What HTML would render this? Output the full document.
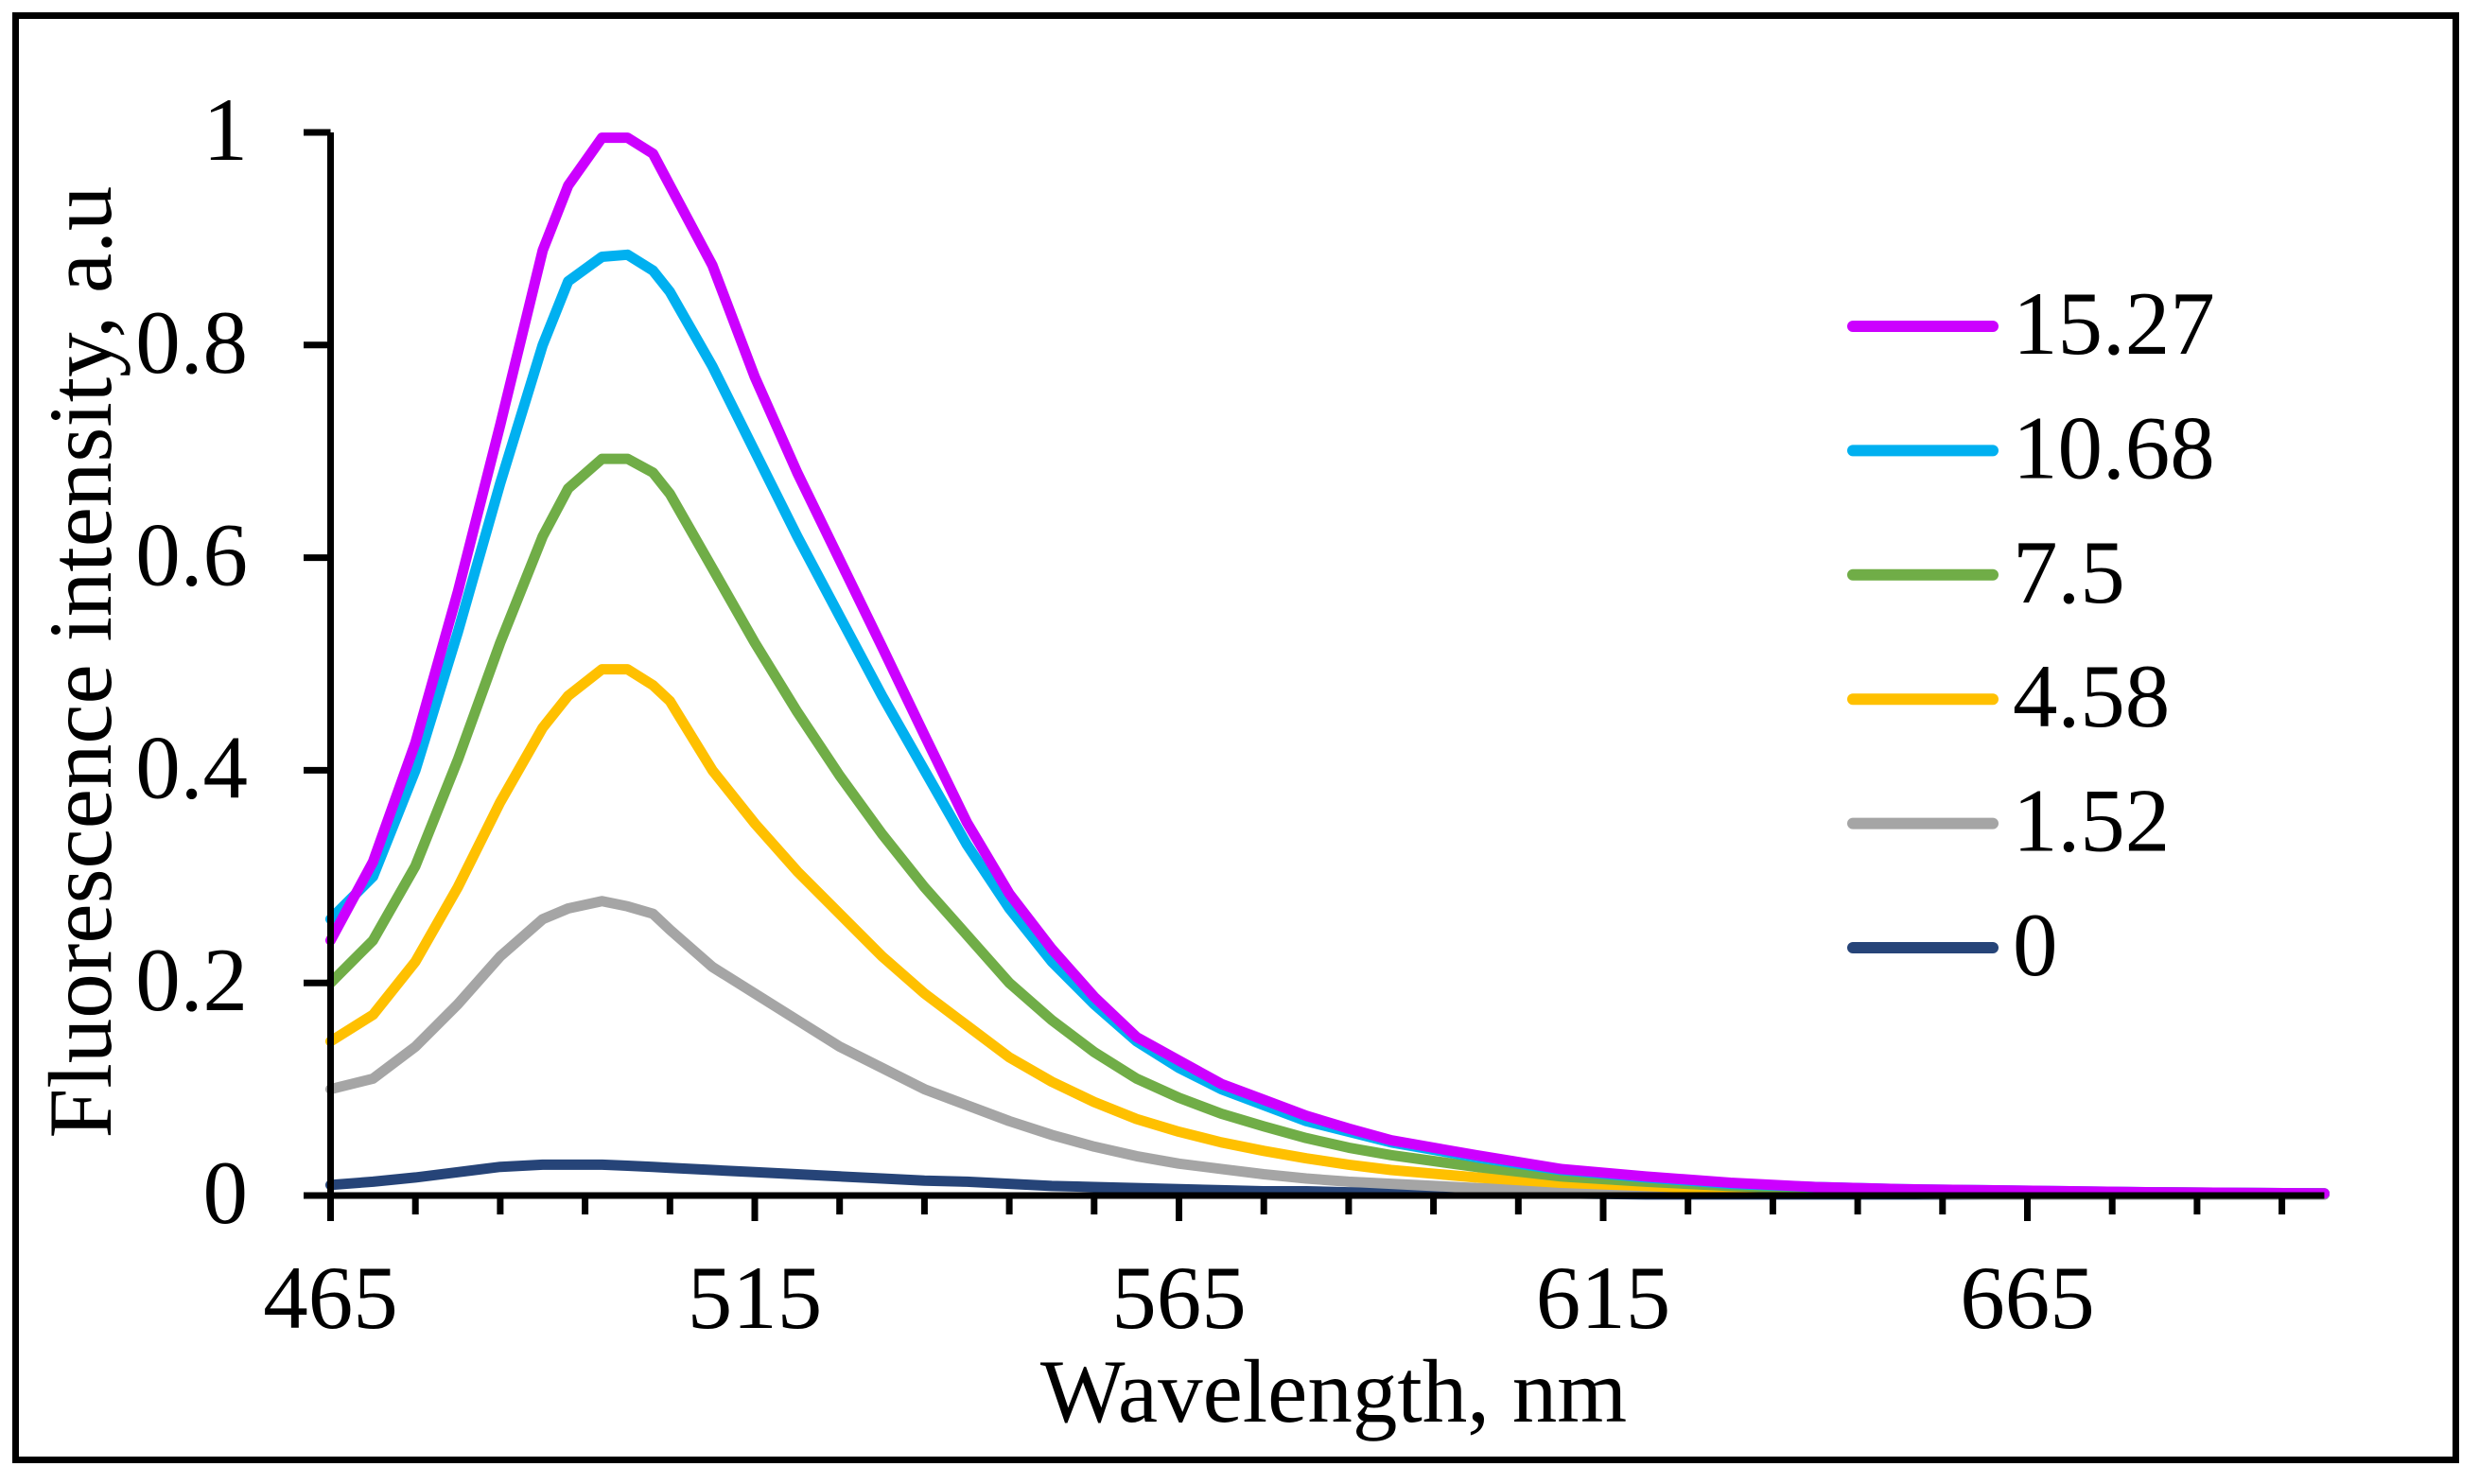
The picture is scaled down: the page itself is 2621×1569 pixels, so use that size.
<!DOCTYPE html>
<html><head><meta charset="utf-8"><style>
html,body{margin:0;padding:0;background:#fff;}
svg{display:block;font-family:"Liberation Serif","Times New Roman",serif;}
</style></head><body>
<svg id="chart" width="2621" height="1569" viewBox="0 0 2621 1569" xmlns="http://www.w3.org/2000/svg">
<rect x="16.5" y="16.5" width="2580" height="1527" fill="#fff" stroke="#000" stroke-width="7"/>
<g id="series"></g>
<g id="axes"></g>
<g id="legend"></g>
<text transform="translate(117,700) rotate(-90)" text-anchor="middle" font-size="95">Fluorescence intensity, a.u</text>
<text x="1410" y="1503" text-anchor="middle" font-size="95">Wavelength, nm</text>
</svg>
<script>
const wavelengths = [465,470,475,480,485,490,493,497,500,503,505,510,515,520,525,530,535,540,545,550,555,560,565,570,575,580,585,590,600,610,620,630,640,650,660,680,700];
const s1527 = [0.24,0.314,0.426,0.568,0.725,0.889,0.95,0.995,0.995,0.98,0.95,0.875,0.77,0.68,0.598,0.516,0.433,0.351,0.284,0.232,0.187,0.149,0.127,0.105,0.09,0.075,0.063,0.052,0.038,0.025,0.018,0.012,0.008,0.006,0.005,0.003,0.002];
const s1068 = [0.26,0.30,0.40,0.53,0.67,0.80,0.86,0.883,0.885,0.87,0.85,0.78,0.70,0.62,0.545,0.47,0.40,0.33,0.27,0.22,0.18,0.145,0.12,0.10,0.085,0.07,0.06,0.05,0.036,0.024,0.017,0.011,0.008,0.006,0.005,0.003,0.002];
const s75 = [0.20,0.24,0.31,0.41,0.52,0.62,0.665,0.693,0.693,0.68,0.66,0.59,0.52,0.455,0.395,0.34,0.29,0.245,0.20,0.165,0.135,0.11,0.092,0.077,0.065,0.054,0.045,0.038,0.027,0.018,0.013,0.009,0.006,0.005,0.004,0.003,0.002];
const s458 = [0.145,0.17,0.22,0.29,0.37,0.44,0.47,0.495,0.495,0.48,0.465,0.40,0.35,0.305,0.265,0.225,0.19,0.16,0.13,0.107,0.088,0.072,0.06,0.05,0.042,0.035,0.029,0.024,0.017,0.012,0.009,0.006,0.005,0.004,0.003,0.002,0.002];
const s152 = [0.10,0.11,0.14,0.18,0.225,0.26,0.27,0.277,0.272,0.265,0.25,0.215,0.19,0.165,0.14,0.12,0.10,0.085,0.07,0.057,0.046,0.037,0.03,0.025,0.02,0.016,0.013,0.011,0.007,0.005,0.004,0.003,0.002,0.002,0.001,0.001,0.001];
const s0 = [0.010,0.013,0.017,0.022,0.027,0.029,0.029,0.029,0.028,0.027,0.026,0.024,0.022,0.020,0.018,0.016,0.014,0.013,0.011,0.009,0.008,0.007,0.006,0.005,0.004,0.004,0.003,0.003,0.002,0.002,0.001,0.001,0.001,0.001,0.001,0.001,0.001];
const seriesLabels = ["15.27","10.68","7.5","4.58","1.52","0"];
const seriesColors = ["#cc00ff","#00b0f0","#70ad47","#ffc000","#a5a5a5","#264478"];
const yTicks = [0,0.2,0.4,0.6,0.8,1];
const yTickLabels = ["0","0.2","0.4","0.6","0.8","1"];
const xMajorTicks = [465,515,565,615,665];

const NS="http://www.w3.org/2000/svg";
const X0=349.5, PXNM=8.97, Y0=1264, PXU=1124;
function xs(w){return X0+(w-465)*PXNM;}
function ys(v){return Y0-v*PXU;}
function mk(tag,attrs,parent){const e=document.createElementNS(NS,tag);for(const k in attrs)e.setAttribute(k,attrs[k]);parent.appendChild(e);return e;}

const allSeries=[s1527,s1068,s75,s458,s152,s0];
const gS=document.getElementById('series');
for(let i=allSeries.length-1;i>=0;i--){
  const vals=allSeries[i];
  let pts=[];
  for(let j=0;j<wavelengths.length;j++){pts.push(xs(wavelengths[j]).toFixed(1)+','+ys(vals[j]).toFixed(1));}
  const p=mk('polyline',{points:pts.join(' '),fill:'none',stroke:seriesColors[i],'stroke-width':11,'stroke-linejoin':'round','stroke-linecap':'round'},gS);
  
  
}

const gA=document.getElementById('axes');
const ya=mk('line',{x1:349.5,y1:140,x2:349.5,y2:1291,stroke:'#000','stroke-width':7},gA);


const xa=mk('line',{x1:321,y1:Y0,x2:xs(700),y2:Y0,stroke:'#000','stroke-width':7},gA);


for(let i=0;i<yTicks.length;i++){
  const y=ys(yTicks[i]);
  const t=mk('line',{x1:321,y1:y,x2:349.5,y2:y,stroke:'#000','stroke-width':7},gA);
  
  
  const l=mk('text',{x:262,y:y+29,'text-anchor':'end','font-size':95},gA);
  l.textContent=yTickLabels[i];
  
  
}
for(let w=465;w<=695;w+=10){
  const major=((w-465)%50===0);
  const t=mk('line',{x1:xs(w),y1:Y0,x2:xs(w),y2:major?1291:1284,stroke:'#000','stroke-width':7},gA);
  
  
}
for(const w of xMajorTicks){
  const l=mk('text',{x:xs(w),y:1404,'text-anchor':'middle','font-size':95},gA);
  l.textContent=String(w);
  
  
}

const gL=document.getElementById('legend');
for(let i=0;i<seriesLabels.length;i++){
  const y=345+i*131.4;
  const ln=mk('line',{x1:1959,y1:y,x2:2107,y2:y,stroke:seriesColors[i],'stroke-width':12,'stroke-linecap':'round'},gL);
  
  
  const tx=mk('text',{x:2128,y:y+29,'font-size':95},gL);
  tx.textContent=seriesLabels[i];
  
  
}
</script>
</body></html>
